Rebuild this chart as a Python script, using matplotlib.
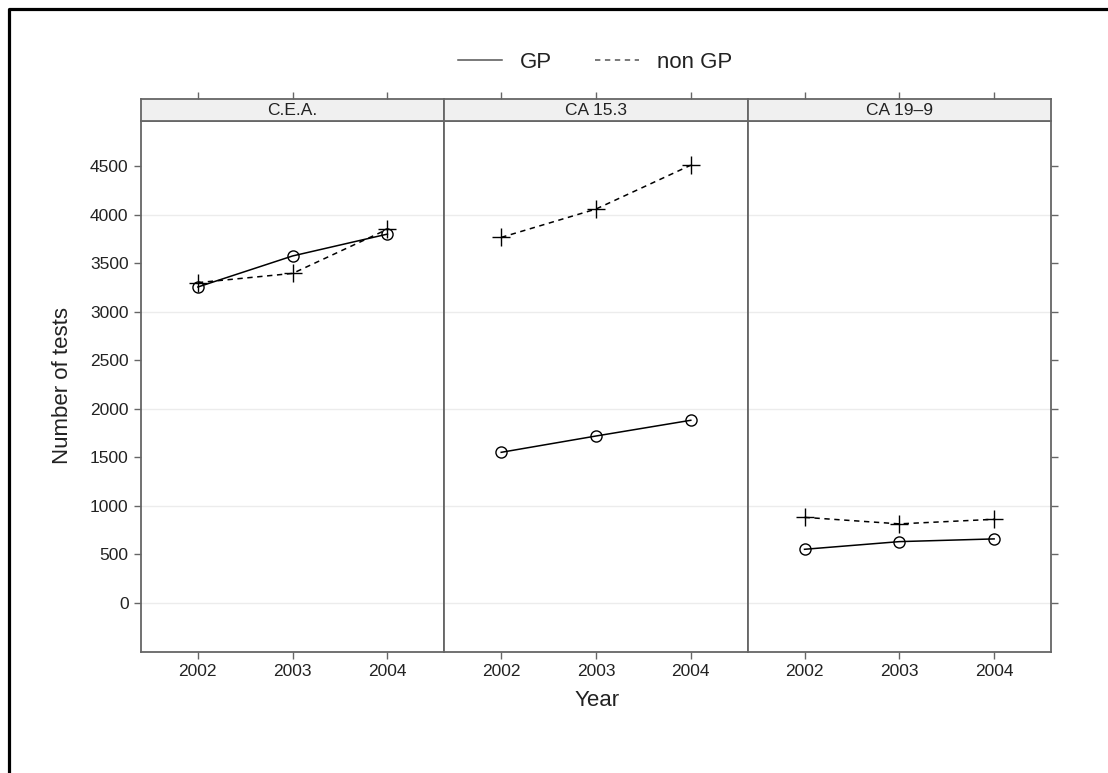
import matplotlib.pyplot as plt
from matplotlib.lines import Line2D

plt.rcParams['font.family'] = ['Liberation Sans', 'DejaVu Sans']

# data
years = [2002, 2003, 2004]
panels = ['C.E.A.', 'CA 15.3', 'CA 19\u20139']
gp = [
    [3255, 3575, 3800],
    [1552, 1720, 1882],
    [553, 632, 660],
]
non_gp = [
    [3300, 3395, 3850],
    [3766, 4058, 4510],
    [882, 815, 862],
]
y_ticks = list(range(0, 4501, 500))
grid_vals = list(range(0, 4001, 1000))

W, H = 1108, 773
fig = plt.figure(figsize=(W / 100, H / 100), dpi=100)
fig.patch.set_facecolor('white')

border = '#666666'
left, right = 141, 1051
top_plot, bottom_plot = 121, 652
strip_top = 99
pw = (right - left) / 3

for i, name in enumerate(panels):
    x0 = left + i * pw
    ax = fig.add_axes([x0 / W, 1 - bottom_plot / H, pw / W, (bottom_plot - top_plot) / H])
    ax.set_xlim(2001.4, 2004.6)
    ax.set_ylim(-505, 4965)

    # light horizontal reference lines
    for g in grid_vals:
        ax.axhline(g, color='#ececec', lw=1, zorder=0)

    ax.plot(years, gp[i], color='black', lw=1.1, marker='o', ms=8,
            mfc='none', mec='black', mew=1.0)
    ax.plot(years, non_gp[i], color='black', lw=1.1, ls=(0, (3.5, 3)),
            marker='+', ms=13, mew=1.0)

    for s in ax.spines.values():
        s.set_color(border)
        s.set_linewidth(1.3)

    ax.set_xticks(years)
    ax.tick_params(axis='x', direction='out', length=5, width=1, color=border,
                   labelsize=12.5, pad=4, labelcolor='#222222')
    ax.set_yticks(y_ticks)
    if i == 0:
        ax.tick_params(axis='y', left=True, right=False, labelleft=True,
                       direction='out', length=5, width=1, color=border,
                       labelsize=12.5, pad=4, labelcolor='#222222')
    elif i == 2:
        ax.tick_params(axis='y', left=False, right=True, labelleft=False,
                       labelright=False, direction='out', length=5, width=1,
                       color=border)
    else:
        ax.tick_params(axis='y', left=False, labelleft=False)

    # strip with panel name
    sx = fig.add_axes([x0 / W, 1 - top_plot / H, pw / W, (top_plot - strip_top) / H])
    sx.set_xlim(2001.4, 2004.6)
    sx.set_ylim(0, 1)
    sx.set_facecolor('#f0f0f0')
    for s in sx.spines.values():
        s.set_color(border)
        s.set_linewidth(1.3)
    sx.set_yticks([])
    sx.set_xticks(years)
    sx.tick_params(axis='x', bottom=False, top=True, labelbottom=False,
                   direction='out', length=5, width=1, color=border)
    sx.text(0.5, 0.48, name, transform=sx.transAxes, ha='center', va='center',
            fontsize=12.5, color='#222222')

fig.text(63 / W, 1 - 386 / H, 'Number of tests', rotation=90, ha='center',
         va='center', fontsize=16, color='#222222')
fig.text(597 / W, 1 - 701 / H, 'Year', ha='center', va='center',
         fontsize=16, color='#222222')

handles = [
    Line2D([], [], color='#555555', lw=1.1),
    Line2D([], [], color='#555555', lw=1.1, ls=(0, (3.5, 3))),
]
fig.legend(handles, ['GP', 'non GP'], loc='center',
           bbox_to_anchor=(595 / W, 1 - 62 / H), ncol=2, frameon=False,
           fontsize=16, handlelength=2.0, handletextpad=0.8,
           columnspacing=1.9, labelcolor='#222222')

# black frame on top and left
fig.add_artist(Line2D([9 / W, 9 / W, 1], [0, 1 - 9 / H, 1 - 9 / H],
                      transform=fig.transFigure, color='black', lw=2.3))

fig.savefig('out.png', dpi=100)
